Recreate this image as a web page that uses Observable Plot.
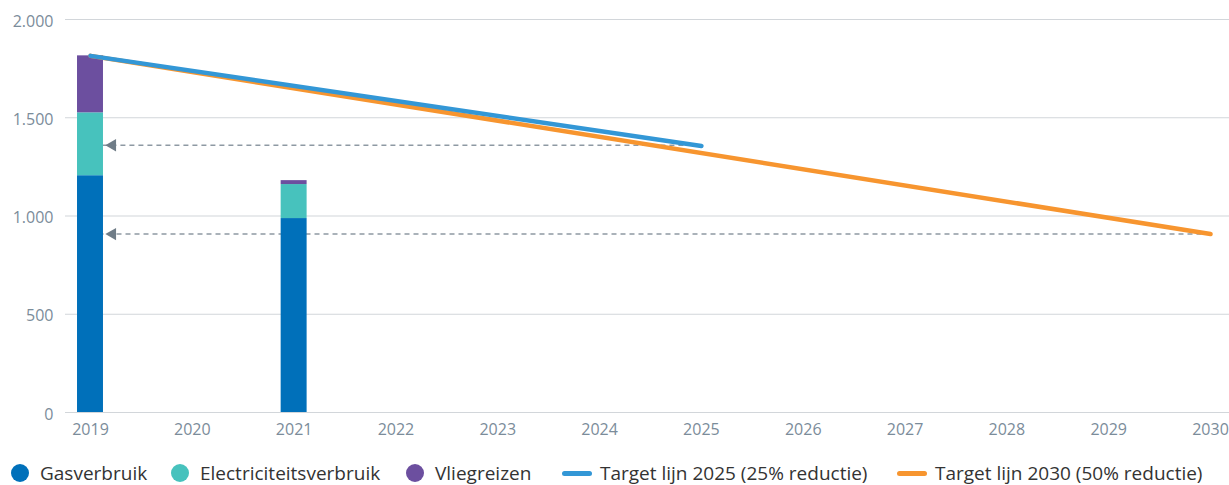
<!DOCTYPE html>
<html>
<head>
<meta charset="utf-8">
<script src="https://cdn.jsdelivr.net/npm/d3@7"></script>
<script src="https://cdn.jsdelivr.net/npm/@observablehq/plot@0.6"></script>
<style>
  html, body { margin: 0; padding: 0; background: #fff; }
  body { width: 1229px; height: 485px; position: relative; overflow: hidden; font-family: "Open Sans", sans-serif; }
  #chart { position: absolute; left: 0; top: 0; }
  #legend { position: absolute; left: 0; top: 460px; width: 1229px; height: 26px; }
  .item { position: absolute; top: 0; height: 26px; display: flex; align-items: center; font-size: 19px; color: #333; white-space: nowrap; }
  .dot { width: 18px; height: 18px; border-radius: 50%; margin-right: 11px; flex: none; }
  .ln { width: 30px; height: 5px; border-radius: 3px; margin-right: 8px; flex: none; }
</style>
</head>
<body>
<div id="chart"></div>
<div id="legend"></div>
<script>
// ---- data ----
const years = ["2019","2020","2021","2022","2023","2024","2025","2026","2027","2028","2029","2030"];
const barYears = ["2019", "2021"];
const categories = ["Gasverbruik", "Electriciteitsverbruik", "Vliegreizen"];
const gas = [1205, 987];
const elec = [320, 173];
const vlieg = [290, 20];
const catColors = ["#0070ba", "#47c2bd", "#6c4f9f"];

const lineNames = ["Target lijn 2025 (25% reductie)", "Target lijn 2030 (50% reductie)"];
const lineColors = ["#3397d6", "#f7952f"];
const line2025Years = ["2019", "2025"];
const line2025Values = [1815, 1356];
const line2030Years = ["2019", "2030"];
const line2030Values = [1815, 908];

const arrowFrom = ["2025", "2030"];
const arrowTo = ["2019", "2019"];
const arrowValues = [1360, 908];

const yTicks = [0, 500, 1000, 1500, 2000];

// ---- build tables ----
const series = [gas, elec, vlieg];
const bars = [];
barYears.forEach((yr, i) => categories.forEach((c, j) => bars.push({year: yr, cat: c, value: series[j][i]})));
const line2025 = line2025Years.map((yr, i) => ({year: yr, v: line2025Values[i]}));
const line2030 = line2030Years.map((yr, i) => ({year: yr, v: line2030Values[i]}));
const arrows = arrowValues.map((v, i) => ({from: arrowFrom[i], to: arrowTo[i], v}));

const nlFormat = d3.formatLocale({decimal: ",", thousands: ".", grouping: [3], currency: ["€", ""]}).format(",");

const tickColor = "#7b8c9a";

const chart = Plot.plot({
  width: 1229,
  height: 452,
  marginTop: 19,
  marginBottom: 40,
  marginLeft: 65,
  marginRight: 0,
  style: {fontFamily: "'Open Sans', sans-serif", fontSize: "16px", background: "transparent"},
  x: {type: "band", domain: years, range: [65, 1235], paddingInner: 0.745, paddingOuter: 0.118, round: false, label: null},
  y: {domain: [0, 2000], label: null},
  color: {domain: categories, range: catColors},
  marks: [
    Plot.gridY(yTicks, {stroke: "#d2d6da", strokeOpacity: 1, strokeWidth: 1.2}),
    Plot.axisY(yTicks, {tickSize: 0, tickPadding: 12, tickFormat: nlFormat, fill: tickColor, fontSize: 16, dy: 2, label: null}),
    Plot.axisX(years, {tickSize: 0, tickPadding: 11, fill: tickColor, fontSize: 16, label: null}),
    Plot.link(arrows, {x1: "from", x2: "to", y1: "v", y2: "v", stroke: "#8e99a3", strokeWidth: 1.5, strokeDasharray: "5,4"}),
    Plot.barY(bars, {x: "year", y: "value", fill: "cat"}),
    Plot.dot(arrows, {x: "to", y: "v", symbol: "triangle", rotate: -90, r: 4.6, dx: 22, fill: "#6f7c87", stroke: "none"}),
    Plot.line(line2030, {x: "year", y: "v", stroke: lineColors[1], strokeWidth: 4.5, strokeLinecap: "round"}),
    Plot.line(line2025, {x: "year", y: "v", stroke: lineColors[0], strokeWidth: 4.5, strokeLinecap: "round"})
  ]
});
document.getElementById("chart").appendChild(chart);

// ---- legend ----
const legend = document.getElementById("legend");
const legendItems = [
  {label: categories[0], color: catColors[0], kind: "dot", left: 11},
  {label: categories[1], color: catColors[1], kind: "dot", left: 171},
  {label: categories[2], color: catColors[2], kind: "dot", left: 406},
  {label: lineNames[0], color: lineColors[0], kind: "ln", left: 562},
  {label: lineNames[1], color: lineColors[1], kind: "ln", left: 897}
];
legendItems.forEach(it => {
  const d = document.createElement("div");
  d.className = "item";
  d.style.left = it.left + "px";
  const sw = document.createElement("span");
  sw.className = it.kind;
  sw.style.background = it.color;
  d.appendChild(sw);
  const t = document.createElement("span");
  t.textContent = it.label;
  d.appendChild(t);
  legend.appendChild(d);
});
</script>
</body>
</html>
